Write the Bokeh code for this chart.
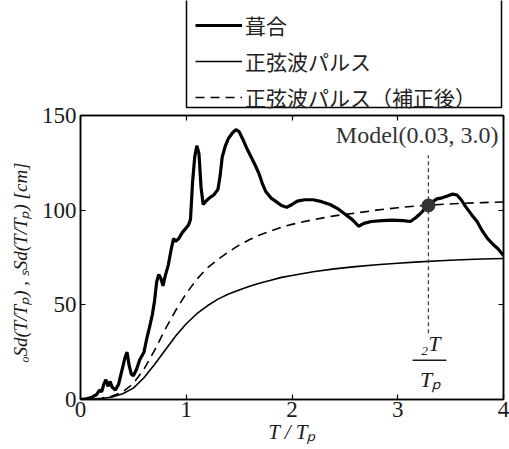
from bokeh.plotting import figure
from bokeh.models import (Legend, LegendItem, Label, LinearAxis, FixedTicker, Range1d)
from bokeh.layouts import column
from bokeh.embed import file_html
from bokeh.resources import INLINE

# ---------------- data ----------------
obs_T = [0.00, 0.05, 0.10, 0.15, 0.18, 0.20, 0.22, 0.24, 0.26, 0.28, 0.30, 0.33, 0.36,
         0.39, 0.42, 0.44, 0.46, 0.48, 0.50, 0.53, 0.56, 0.60, 0.63, 0.66, 0.68, 0.70,
         0.72, 0.74, 0.76, 0.78, 0.80, 0.83, 0.86, 0.88, 0.90, 0.93, 0.96, 0.99, 1.02,
         1.04, 1.06, 1.08, 1.10, 1.12, 1.14, 1.16, 1.19, 1.22, 1.26, 1.30, 1.32, 1.34,
         1.37, 1.40, 1.44, 1.47, 1.50, 1.53, 1.57, 1.61, 1.65, 1.69, 1.72, 1.75, 1.80,
         1.85, 1.90, 1.95, 2.00, 2.05, 2.12, 2.20, 2.28, 2.36, 2.44, 2.50, 2.57, 2.63,
         2.68, 2.75, 2.85, 2.95, 3.05, 3.12, 3.17, 3.22, 3.26, 3.29, 3.33, 3.37, 3.42,
         3.47, 3.52, 3.56, 3.60, 3.64, 3.70, 3.75, 3.80, 3.85, 3.90, 3.95, 4.00]
obs_v = [0.0, 0.3, 1.0, 2.5, 5.0, 4.0, 8.0, 10.5, 7.0, 9.5, 6.5, 5.0, 8.0,
         15.0, 22.0, 25.0, 18.0, 13.5, 12.5, 16.0, 21.0, 25.0, 33.0, 40.0, 45.0, 52.0,
         62.0, 66.0, 64.0, 60.0, 65.0, 71.0, 80.0, 85.0, 83.5, 85.0, 88.0, 90.0, 92.0,
         95.0, 115.0, 128.0, 134.0, 130.0, 112.0, 103.0, 105.0, 106.5, 108.0, 111.0, 118.0, 128.0,
         134.0, 138.0, 141.0, 142.5, 141.5, 138.0, 133.0, 128.5, 124.0, 119.0, 114.0, 110.0, 106.5,
         104.5, 102.5, 101.5, 103.0, 104.8, 105.5, 105.5, 104.5, 103.0, 100.5, 98.0, 95.0, 91.5,
         93.0, 94.0, 94.5, 94.7, 94.5, 94.0, 96.0, 98.5, 101.0, 102.5, 104.5, 106.0, 106.5,
         107.5, 108.5, 108.0, 105.5, 102.0, 97.5, 94.0, 89.0, 85.0, 82.0, 79.5, 76.0]

sine_T = [0.0, 0.1, 0.2, 0.3, 0.4, 0.5, 0.6, 0.7, 0.8, 0.9, 1.0, 1.1, 1.2, 1.3, 1.4, 1.5,
          1.6, 1.7, 1.8, 1.9, 2.0, 2.2, 2.4, 2.6, 2.8, 3.0, 3.2, 3.4, 3.6, 3.8, 4.0]
sine_v = [0.0, 0.1, 0.5, 1.3, 3.0, 6.0, 11.5, 18.5, 26.0, 33.5, 40.0, 45.3, 49.5, 53.0,
          55.7, 57.8, 59.8, 61.5, 63.0, 64.5, 65.5, 67.5, 69.0, 70.2, 71.2, 72.0, 72.7,
          73.3, 73.8, 74.2, 74.5]
corr_v = [0.0, 0.1, 0.7, 1.8, 4.0, 8.5, 16.0, 26.0, 37.0, 47.0, 56.0, 63.5, 69.5, 74.0,
          78.0, 81.5, 84.5, 87.0, 89.0, 91.0, 92.5, 95.0, 97.0, 98.5, 100.0, 101.3, 102.3,
          103.0, 103.6, 104.0, 104.3]

x_ticks = [0, 1, 2, 3, 4]
y_ticks = [0, 50, 100, 150]
legend_labels = ["葺合", "正弦波パルス", "正弦波パルス（補正後）"]

model_T = 3.29
model_v = 102.5
model_text = "Model(0.03, 3.0)"
vline_v = [35.0, 129.0]
frac_top = "₂T"
frac_bottom = "Tₚ"

SERIF = "Liberation Serif"
CJK = "Noto Sans CJK JP"
TXT = "#1a1a1a"

OBS_STYLE = dict(line_color="black", line_width=3.2)
SIN_STYLE = dict(line_color="black", line_width=1.6)
COR_STYLE = dict(line_color="black", line_width=1.6, line_dash="9 6")

# ---------------- layout constants ----------------
W, H = 509, 449
TOP_H = 113           # legend strip height
OVERLAP = 12          # main figure slides up under the strip (transparent border)
FRAME_L, FRAME_R = 80, 503
FRAME_TOP = 115

# ---------------- legend strip (top) ----------------
pt = figure(width=W, height=TOP_H, output_backend="svg", toolbar_location=None,
            x_range=Range1d(FRAME_L, FRAME_R), y_range=Range1d(TOP_H, 0),
            min_border_left=FRAME_L, min_border_right=W - FRAME_R,
            min_border_top=0, min_border_bottom=0)
pt.axis.visible = False
pt.grid.visible = False
pt.outline_line_color = None
pt.background_fill_color = "white"
pt.border_fill_color = "white"
# legend frame (its top runs past the page edge)
box_x = [186, 186, 501, 501]
box_y = [-5, 107, 107, -5]
pt.line(box_x, box_y, line_color="black", line_width=1.5)
nan = float("nan")
l_obs = pt.line([nan], [nan], **OBS_STYLE)
l_sin = pt.line([nan], [nan], **SIN_STYLE)
l_cor = pt.line([nan], [nan], **COR_STYLE)
legend = Legend(items=[LegendItem(label=legend_labels[0], renderers=[l_obs]),
                       LegendItem(label=legend_labels[1], renderers=[l_sin]),
                       LegendItem(label=legend_labels[2], renderers=[l_cor])],
                location=(195 - FRAME_L, -2), padding=0, spacing=0, margin=0,
                glyph_width=47, glyph_height=36, label_height=36, label_standoff=3,
                label_text_font=CJK, label_text_font_size="21px", label_text_color="#222222",
                border_line_alpha=0, background_fill_alpha=0)
pt.add_layout(legend, "center")

# ---------------- main figure ----------------
p = figure(width=W, height=H - TOP_H + OVERLAP, output_backend="svg", toolbar_location=None,
           x_range=Range1d(0, 4), y_range=Range1d(0, 150),
           min_border_left=FRAME_L, min_border_right=W - FRAME_R,
           min_border_top=FRAME_TOP - (TOP_H - OVERLAP), min_border_bottom=50,
           margin=(-OVERLAP, 0, 0, 0))
p.background_fill_color = "white"
p.border_fill_alpha = 0
p.outline_line_color = "black"
p.outline_line_width = 1.5
p.grid.visible = False

p.line(obs_T, obs_v, **OBS_STYLE)
p.line(sine_T, sine_v, **SIN_STYLE)
p.line(sine_T, corr_v, **COR_STYLE)

# model marker and vertical guide
p.line([model_T, model_T], vline_v, line_color="#444444", line_width=1.3, line_dash="4 3")
p.scatter([model_T], [model_v], size=13, color="#333333")

# axes
for ax in (p.xaxis[0], p.yaxis[0]):
    ax.major_tick_in = 5
    ax.major_tick_out = 0
    ax.minor_tick_line_color = None
    ax.axis_line_width = 1.5
    ax.major_tick_line_width = 1.2
    ax.major_label_text_font = SERIF
    ax.major_label_text_font_size = "23px"
    ax.major_label_text_color = TXT
    ax.axis_label_text_font = SERIF
    ax.axis_label_text_font_size = "21px"
    ax.axis_label_text_font_style = "italic"
    ax.axis_label_text_color = TXT

p.xaxis[0].ticker = FixedTicker(ticks=x_ticks)
p.yaxis[0].ticker = FixedTicker(ticks=y_ticks)
p.xaxis[0].axis_label = "T / Tₚ"
p.yaxis[0].axis_label = "ₒSd(T/Tₚ) , ₛSd(T/Tₚ)   [cm]"
p.yaxis[0].axis_label_text_font_size = "19px"
p.xaxis[0].major_label_standoff = 2
p.xaxis[0].axis_label_standoff = 0
p.yaxis[0].major_label_standoff = 4
p.yaxis[0].axis_label_standoff = 8

# mirrored ticks on top/right
top_ax = LinearAxis(ticker=FixedTicker(ticks=x_ticks), major_tick_in=5, major_tick_out=0,
                    minor_tick_line_color=None, major_label_overrides={t: "" for t in x_ticks},
                    major_label_standoff=0, axis_line_width=1.5, major_tick_line_width=1.2)
right_ax = LinearAxis(ticker=FixedTicker(ticks=y_ticks), major_tick_in=5, major_tick_out=0,
                      minor_tick_line_color=None, major_label_overrides={t: "" for t in y_ticks},
                      major_label_standoff=0, axis_line_width=1.5, major_tick_line_width=1.2)
p.add_layout(top_ax, "above")
p.add_layout(right_ax, "right")

# annotations
p.add_layout(Label(x=4, y=139.5, x_offset=-5, text=model_text, text_align="right",
                   text_baseline="middle", text_font=SERIF, text_font_size="24px",
                   text_color="#333333"))
p.add_layout(Label(x=model_T + 0.02, y=29.5, text=frac_top, text_align="center",
                   text_baseline="middle", text_font=SERIF, text_font_size="22px",
                   text_font_style="italic", text_color=TXT))
p.line([model_T - 0.15, model_T + 0.17], [20.7, 20.7], line_color=TXT, line_width=1.5)
p.add_layout(Label(x=model_T + 0.02, y=10.5, text=frac_bottom, text_align="center",
                   text_baseline="middle", text_font=SERIF, text_font_size="22px",
                   text_font_style="italic", text_color=TXT))

layout = column(pt, p, spacing=0)
open("out.html", "w").write(file_html(layout, INLINE))
